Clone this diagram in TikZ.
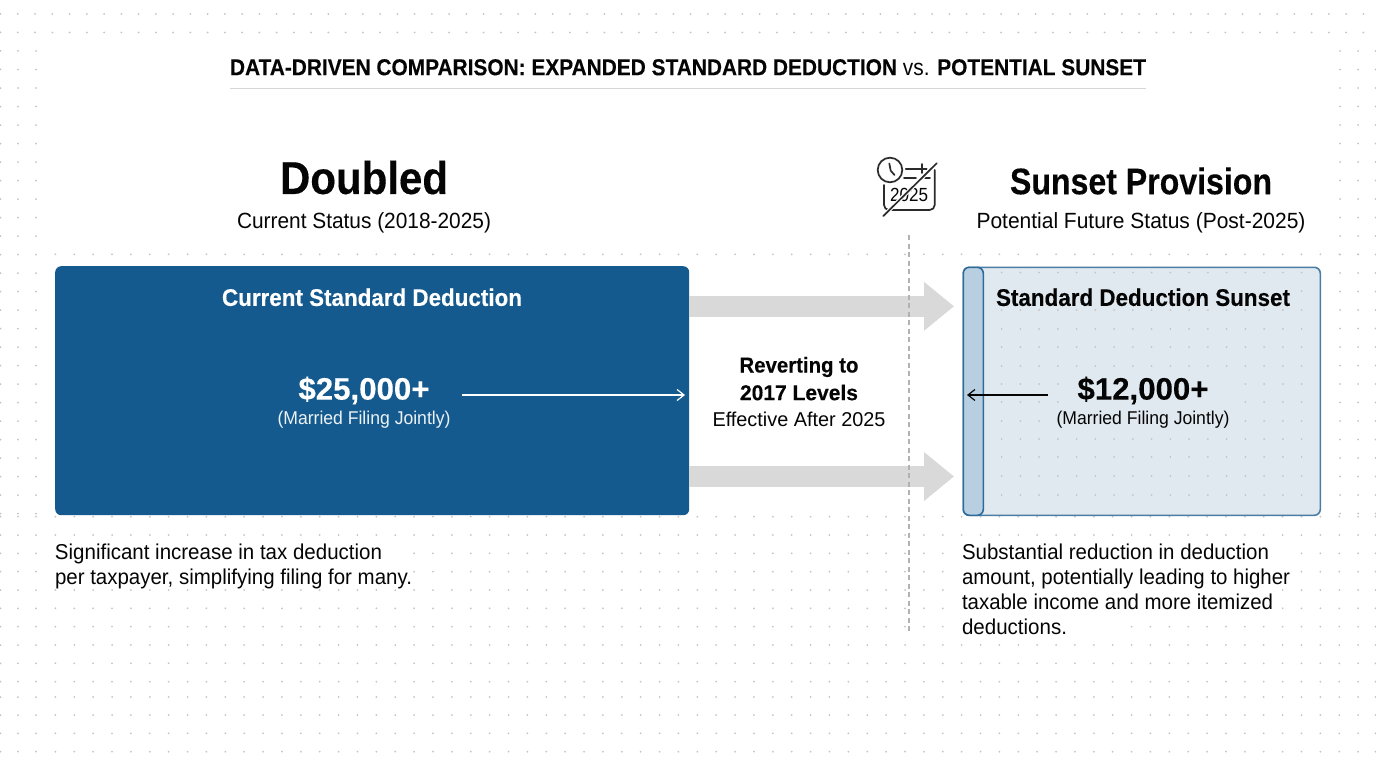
\documentclass[tikz,border=0pt]{standalone}
\usepackage{graphicx}
\usepackage{fontspec}
\setmainfont[BoldFeatures={FakeBold=0.25}]{Liberation Sans}
\usetikzlibrary{arrows.meta}
\definecolor{darkblue}{HTML}{155A8E}
\definecolor{lightbox}{HTML}{E1E9F0}
\definecolor{boxline}{HTML}{4A7DA3}
\definecolor{bandfill}{HTML}{B8CFE2}
\definecolor{bandline}{HTML}{2F6B9A}
\definecolor{blockgray}{HTML}{D9D9D9}
\definecolor{dotgray}{HTML}{C4C4C4}
\definecolor{ink}{HTML}{050505}
\newcommand{\tw}[2]{\resizebox{#1pt}{\height}{#2}}
\newcommand{\fs}[1]{\fontsize{#1}{#1}\selectfont}
\tikzset{
  label/.style={inner sep=0pt,outer sep=0pt,text=ink,align=center},
  para/.style={inner sep=0pt,outer sep=0pt,text=ink,align=left,font=\fontsize{21.5}{25}\selectfont},
  blockarrow/.style={draw=blockgray,line width=20.5pt,-{Triangle[length=30pt,width=47pt]}},
  thinarrow/.style={line width=1.2pt,-{Straight Barb[length=7pt,width=11pt]}},
  iconline/.style={draw=ink!85,line width=1.7pt,line cap=round},
}
\newcommand{\dotat}[2]{\fill[dotgray] (#1,#2) circle (1pt);}
\begin{document}
\begin{tikzpicture}[x=1pt,y=-1pt]
\useasboundingbox (0,0) rectangle (1376,768);
\fill[white] (0,0) rectangle (1376,768);
% dot texture: top rows
\foreach \yy in {14,32.5}{\foreach \k in {0,...,79}{\dotat{0.5+17.25*\k}{\yy}}}
% side columns
\foreach \k in {2,...,27}{\pgfmathsetmacro{\yy}{14+18.5*\k}
  \foreach \xx in {0.5,18,36}{\dotat{\xx}{\yy}}
  \foreach \xx in {1340,1358,1375.5}{\dotat{\xx}{\yy}}}
% row above boxes
\foreach \k in {0,...,69}{\dotat{55.4+18.88*\k}{254.3}}
% lower field
\foreach \yy in {516.7,535,553.3,571.7,590,608.3,626.7,645,663.3,681.7,697,715,733.3,751.7}{
  \foreach \xx in {0.5,18,36}{\dotat{\xx}{\yy}}
  \foreach \k in {0,...,69}{\dotat{55.4+18.88*\k}{\yy}}
  \dotat{1375.5}{\yy}}
% clear the dots behind the paragraphs
\fill[white] (46,544) rectangle (408,581);
\fill[white] (952,544) rectangle (1298,581);
\fill[white] (952,581) rectangle (1282,618);
\fill[white] (952,618) rectangle (1130,636);
% boxes
\node[draw=none,fill=darkblue,rounded corners=6pt,minimum width=634pt,minimum height=249pt,inner sep=0pt,anchor=north west] (dark) at (55,266) {};
\node[draw=boxline,line width=1.6pt,fill=lightbox,rounded corners=6pt,minimum width=357pt,minimum height=248pt,inner sep=0pt,anchor=north west] (light) at (962.5,266.5) {};
% dots seen through the light box
\foreach \yy in {272.5,291,310,329,347,366,384,402,421,439,457,476,495}{
  \foreach \k in {1,...,18}{\dotat{964+18.75*\k}{\yy}}}
\fill[lightbox] (990,285) rectangle (1295,300);
\fill[lightbox] (1060,378) rectangle (1230,428);
\node[draw=bandline,line width=1.6pt,fill=bandfill,rounded corners=6pt,minimum width=20pt,minimum height=248pt,inner sep=0pt,anchor=north west] (band) at (962.5,266.5) {};
% block arrows
\coordinate (a1s) at (689,306.3);
\coordinate (a1e) at (954,306.3);
\coordinate (a2s) at (689,476.5);
\coordinate (a2e) at (954,476.5);
\draw[blockarrow] (a1s) -- (a1e);
\draw[blockarrow] (a2s) -- (a2e);
% dashed divider
\coordinate (d1) at (909,235);
\coordinate (d2) at (909,632);
\draw[draw=black!30,line width=1.2pt,dash pattern=on 5pt off 3.5pt] (d1) -- (d2);
% title
\node[label] (title) at (688,67.3) {\tw{916}{\fs{23}\bfseries DATA-DRIVEN COMPARISON: EXPANDED STANDARD DEDUCTION {\mdseries vs.} POTENTIAL SUNSET}};
\coordinate (r1) at (230,88.7); \coordinate (r2) at (1146,88.7);
\draw[draw=black!16,line width=1pt] (r1) -- (r2);
% headings
\node[label] (doubled) at (364,177.5) {\tw{168}{\fs{46}\bfseries Doubled}};
\node[label] (curstat) at (364,223) {\tw{254}{\fs{22}Current Status (2018-2025)}};
\node[label] (sunset) at (1141,181) {\tw{262}{\fs{37}\bfseries Sunset Provision}};
\node[label] (futstat) at (1141,223) {\tw{329}{\fs{22}Potential Future Status (Post-2025)}};
% dark box content
\node[label,text=white] (dtitle) at (372,297.3) {\tw{300}{\fs{24}\bfseries Current Standard Deduction}};
\node[label,text=white] (damt) at (364,390.5) {\tw{131}{\fs{31}\bfseries \$25,000+}};
\node[label,text=white!92!darkblue] (dsub) at (364,420) {\tw{173}{\fs{18.5}(Married Filing Jointly)}};
% light box content
\node[label] (ltitle) at (1143,297.3) {\tw{294}{\fs{24}\bfseries Standard Deduction Sunset}};
\node[label] (lamt) at (1143,390.5) {\tw{131}{\fs{31}\bfseries \$12,000+}};
\node[label] (lsub) at (1143,420) {\tw{173}{\fs{18.5}(Married Filing Jointly)}};
% thin arrows
\coordinate (w1) at (462,395); \coordinate (w2) at (685,395);
\draw[thinarrow,draw=white] (w1) -- (w2);
\coordinate (b1) at (1048,395); \coordinate (b2) at (967,395);
\draw[thinarrow,draw=ink] (b1) -- (b2);
% middle text
\node[label] (mid1) at (799,367) {\tw{119}{\fs{21.5}\bfseries Reverting to}};
\node[label] (mid2) at (799,392.5) {\tw{118}{\fs{21.5}\bfseries 2017 Levels}};
\node[label] (mid3) at (799,419) {\tw{173}{\fs{20}Effective After 2025}};
% paragraphs
\node[para,anchor=north west] (ptl) at (55,543.5) {\tw{327}{Significant increase in tax deduction}\\\tw{357}{per taxpayer, simplifying filing for many.}};
\node[para,anchor=north west] (ptr) at (962,543.5) {\tw{307}{Substantial reduction in deduction}\\\tw{328}{amount, potentially leading to higher}\\\tw{311}{taxable income and more itemized}\\\tw{105}{deductions.}};
% icon
\draw[iconline] (890,170) circle (12.3pt);
\draw[iconline,line join=round] (889.3,163.5) -- (890.7,170.7) -- (894.5,175);
\draw[iconline] (905.7,169) -- (926.7,169);
\draw[iconline] (921.7,164) -- (921.7,173);
\draw[iconline] (904,178.3) -- (916,178.3);
\draw[iconline] (925,178.3) -- (930,178.3);
\draw[iconline,rounded corners=5pt] (884,185) -- (884,210) -- (934.7,210) -- (934.7,170);
\node[label] (year) at (909,195) {\tw{38}{\fs{19}2025}};
\draw[white,line width=4pt] (883.3,216) -- (936.7,163.3);
\draw[iconline] (883.3,216) -- (936.7,163.3);
\end{tikzpicture}
\end{document}
